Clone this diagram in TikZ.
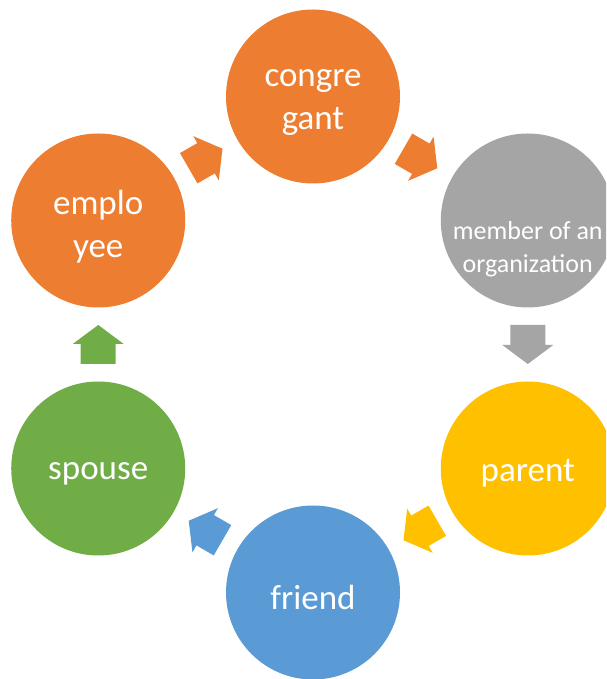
\documentclass[tikz,border=0pt]{standalone}
\usepackage{fontspec}
\setmainfont{Carlito}
\usetikzlibrary{calc}
\definecolor{cOrange}{HTML}{ED7D31}
\definecolor{cGray}{HTML}{A5A5A5}
\definecolor{cGold}{HTML}{FFC000}
\definecolor{cBlue}{HTML}{5B9BD5}
\definecolor{cGreen}{HTML}{70AD47}
\tikzset{
  x=1pt, y=1pt,
  ring/.style={circle, minimum size=174pt, inner sep=0pt},
  bigtext/.style={text=white, align=center, inner sep=0pt,
    font=\fontsize{35}{43}\selectfont},
  smalltext/.style={text=white, align=center, inner sep=0pt,
    font=\fontsize{26}{33.5}\selectfont},
  pics/blockarrow/.style={code={
    \fill[#1] (-19.5,-17.5) -- (0.5,-17.5) -- (0.5,-25.5) -- (19.5,0)
      -- (0.5,25.5) -- (0.5,17.5) -- (-19.5,17.5) -- cycle;}}
}
\begin{document}
\begin{tikzpicture}
\useasboundingbox (0,0) rectangle (606,679);
\clip (0,0) rectangle (606,679);
\fill[white] (0,0) rectangle (606,679);
\coordinate (o) at (313,334.5);
\node[ring, fill=cOrange] (cong) at ($(o)+(90:248)$) {};
\node[ring, fill=cGray] (memb) at ($(o)+(30:248)$) {};
\node[ring, fill=cGold] (par) at ($(o)+(-30:248)$) {};
\node[ring, fill=cBlue] (fri) at ($(o)+(-90:248)$) {};
\node[ring, fill=cGreen] (spo) at ($(o)+(-150:248)$) {};
\node[ring, fill=cOrange] (emp) at ($(o)+(150:248)$) {};
\node[bigtext] (congT) at ([yshift=-6.5]cong) {congre\\gant};
\node[smalltext] (membT) at ([yshift=-28.5]memb) {member of an\\organization};
\node[bigtext] (parT) at ([yshift=-5]par) {parent};
\node[bigtext] (friT) at ([yshift=-5]fri) {friend};
\node[bigtext] (spoT) at ([yshift=-5]spo) {spouse};
\node[bigtext] (empT) at ([yshift=-6.5]emp) {emplo\\yee};
\path ($(cong)!0.5!(memb)$) pic[rotate=-30] {blockarrow=cOrange};
\path ($(memb)!0.5!(par)$) pic[rotate=-90] {blockarrow=cGray};
\path ($(par)!0.5!(fri)$) pic[rotate=-150] {blockarrow=cGold};
\path ($(fri)!0.5!(spo)$) pic[rotate=150] {blockarrow=cBlue};
\path ($(spo)!0.5!(emp)$) pic[rotate=90] {blockarrow=cGreen};
\path ($(emp)!0.5!(cong)$) pic[rotate=30] {blockarrow=cOrange};
\end{tikzpicture}
\end{document}
